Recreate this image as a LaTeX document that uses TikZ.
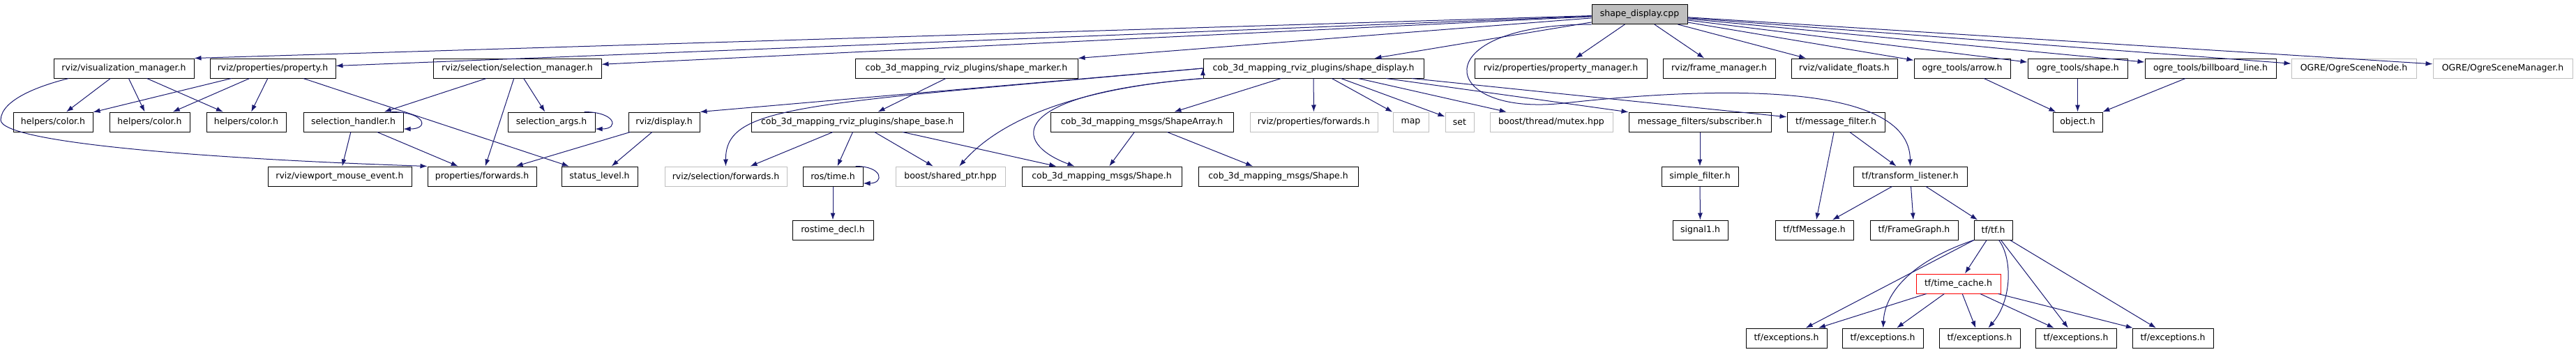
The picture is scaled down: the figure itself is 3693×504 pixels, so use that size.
\documentclass[tikz,border=0pt]{standalone}
\usepackage{fontspec}
\setmainfont{DejaVu Sans}
\usetikzlibrary{arrows.meta}
\definecolor{edgeblue}{HTML}{191970}
\definecolor{ghostgray}{HTML}{BFBFBF}

\begin{document}
\begin{tikzpicture}[x=1pt,y=-1pt,
	    IncBlock/.style= {
	        draw, line width=1pt,
	        minimum height=28pt, inner sep=0pt,
	        font=\fontsize{12.5}{14}\selectfont},
	    IncGhost/.style= {IncBlock, draw=ghostgray},
	    IncEdge/.style= {edgeblue, line width=1pt, -{Latex[length=10pt,width=7pt]}}]

		\useasboundingbox (0,0) rectangle (3693,504);

		% Blocks
		\node [IncBlock,fill=ghostgray,minimum width=137pt] (cpp) at (2350.5,20.5) {shape\_display.cpp};

		\node [IncBlock,minimum width=201pt] (vis) at (177.5,98) {rviz/visualization\_manager.h};
		\node [IncBlock,minimum width=180pt] (prop) at (391,98) {rviz/properties/property.h};
		\node [IncBlock,minimum width=241pt] (selmgr) at (741.5,98) {rviz/selection/selection\_manager.h};
		\node [IncBlock,minimum width=319pt] (marker) at (1385.5,98) {cob\_3d\_mapping\_rviz\_plugins/shape\_marker.h};
		\node [IncBlock,minimum width=316pt] (disph) at (1883,98) {cob\_3d\_mapping\_rviz\_plugins/shape\_display.h};
		\node [IncBlock,minimum width=247pt] (propmgr) at (2237.5,98) {rviz/properties/property\_manager.h};
		\node [IncBlock,minimum width=161pt] (framemgr) at (2464.5,98) {rviz/frame\_manager.h};
		\node [IncBlock,minimum width=152pt] (validate) at (2644,98) {rviz/validate\_floats.h};
		\node [IncBlock,minimum width=138pt] (oarrow) at (2813,98) {ogre\_tools/arrow.h};
		\node [IncBlock,minimum width=143pt] (oshape) at (2978.5,98) {ogre\_tools/shape.h};
		\node [IncBlock,minimum width=188pt] (billboard) at (3169,98) {ogre\_tools/billboard\_line.h};
		\node [IncGhost,minimum width=179pt] (scenenode) at (3374.5,98) {OGRE/OgreSceneNode.h};
		\node [IncGhost,minimum width=200pt] (scenemgr) at (3588,98) {OGRE/OgreSceneManager.h};

		\node [IncBlock,minimum width=114pt] (colorA) at (76,175) {helpers/color.h};
		\node [IncBlock,minimum width=115pt] (colorB) at (214.5,175) {helpers/color.h};
		\node [IncBlock,minimum width=114pt] (colorC) at (353,175) {helpers/color.h};
		\node [IncBlock,minimum width=143pt] (selhandler) at (506.5,175) {selection\_handler.h};
		\node [IncBlock,minimum width=125pt] (selargs) at (790.5,175) {selection\_args.h};
		\node [IncBlock,minimum width=102pt] (display) at (952,175) {rviz/display.h};
		\node [IncBlock,minimum width=304pt] (base) at (1229,175) {cob\_3d\_mapping\_rviz\_plugins/shape\_base.h};
		\node [IncBlock,minimum width=262pt] (shapearray) at (1637,175) {cob\_3d\_mapping\_msgs/ShapeArray.h};
		\node [IncGhost,minimum width=183pt] (propfwd) at (1883.5,175) {rviz/properties/forwards.h};
		\node [IncGhost,minimum width=51pt] (mapinc) at (2022.5,175) {map};
		\node [IncGhost,minimum width=41pt] (setinc) at (2092.5,175) {set};
		\node [IncGhost,minimum width=176pt] (mutex) at (2224,175) {boost/thread/mutex.hpp};
		\node [IncBlock,minimum width=204pt] (subscriber) at (2437,175) {message\_filters/subscriber.h};
		\node [IncBlock,minimum width=140pt] (msgfilter) at (2632,175) {tf/message\_filter.h};
		\node [IncBlock,minimum width=71pt] (object) at (2978.5,175) {object.h};

		\node [IncBlock,minimum width=206pt] (viewport) at (487,253) {rviz/viewport\_mouse\_event.h};
		\node [IncBlock,minimum width=156pt] (fwd) at (691,253) {properties/forwards.h};
		\node [IncBlock,minimum width=109pt] (status) at (859.5,253) {status\_level.h};
		\node [IncGhost,minimum width=175pt] (selfwd) at (1040.5,253) {rviz/selection/forwards.h};
		\node [IncBlock,minimum width=86pt] (rostime) at (1194,253) {ros/time.h};
		\node [IncGhost,minimum width=157pt] (sharedptr) at (1362.5,253) {boost/shared\_ptr.hpp};
		\node [IncBlock,minimum width=229pt] (shapeA) at (1579.5,253) {cob\_3d\_mapping\_msgs/Shape.h};
		\node [IncBlock,minimum width=229pt] (shapeB) at (1832.5,253) {cob\_3d\_mapping\_msgs/Shape.h};
		\node [IncBlock,minimum width=110pt] (simple) at (2437,253) {simple\_filter.h};
		\node [IncBlock,minimum width=163pt] (tlistener) at (2738.5,253) {tf/transform\_listener.h};

		\node [IncBlock,minimum width=116pt] (rostimedecl) at (1194,330) {rostime\_decl.h};
		\node [IncBlock,minimum width=79pt] (signal) at (2437.5,330) {signal1.h};
		\node [IncBlock,minimum width=112pt] (tfmsg) at (2601,330) {tf/tfMessage.h};
		\node [IncBlock,minimum width=126pt] (framegraph) at (2744,330) {tf/FrameGraph.h};
		\node [IncBlock,minimum width=55pt] (tfh) at (2857.5,330) {tf/tf.h};

		\node [IncBlock,draw=red,minimum width=121pt] (timecache) at (2807.5,407) {tf/time\_cache.h};

		\node [IncBlock,minimum width=116pt] (excA) at (2561,485) {tf/exceptions.h};
		\node [IncBlock,minimum width=116pt] (excB) at (2699,485) {tf/exceptions.h};
		\node [IncBlock,minimum width=116pt] (excC) at (2838,485) {tf/exceptions.h};
		\node [IncBlock,minimum width=116pt] (excD) at (2976,485) {tf/exceptions.h};
		\node [IncBlock,minimum width=116pt] (excE) at (3115,485) {tf/exceptions.h};

		% Arrows
		\draw[IncEdge]
		    (cpp) edge (vis.north east)
		    (cpp) edge (prop)
		    (cpp) edge (selmgr)
		    (cpp) edge (marker.north east)
		    (cpp) edge (disph)
		    (cpp) edge (propmgr)
		    (cpp) edge (framemgr)
		    (cpp) edge (validate)
		    (cpp) edge (oarrow)
		    (cpp) edge (oshape)
		    (cpp) edge (billboard)
		    (cpp) edge (scenenode)
		    (cpp) edge (scenemgr)
		    (vis) edge (colorA)
		    (vis) edge (colorB)
		    (vis) edge (colorC)
		    (prop) edge (colorA)
		    (prop) edge (colorB)
		    (prop) edge (colorC)
		    (prop) edge (status)
		    (selmgr) edge (selhandler)
		    (selmgr) edge (fwd)
		    (selmgr) edge (selargs)
		    (selhandler) edge (viewport)
		    (selhandler) edge (fwd)
		    (display) edge (fwd)
		    (display) edge (status)
		    (marker) edge (base)
		    (disph.west) edge (display.north east)
		    (disph) edge (shapearray)
		    (disph) edge (propfwd)
		    (disph) edge (mapinc)
		    (disph) edge (setinc)
		    (disph) edge (mutex)
		    (disph) edge (subscriber)
		    (disph) edge (msgfilter)
		    (base) edge (selfwd)
		    (base) edge (rostime)
		    (base) edge (sharedptr)
		    (base) edge (shapeA)
		    (rostime) edge (rostimedecl)
		    (shapearray) edge (shapeA)
		    (shapearray) edge (shapeB)
		    (subscriber) edge (simple)
		    (simple) edge (signal)
		    (msgfilter) edge (tfmsg)
		    (msgfilter) edge (tlistener)
		    (tlistener) edge (tfmsg)
		    (tlistener) edge (framegraph)
		    (tlistener) edge (tfh)
		    (tfh) edge (timecache)
		    (tfh) edge (excA)
		    (tfh) edge (excD)
		    (tfh) edge (excE)
		    (timecache) edge (excA)
		    (timecache) edge (excB)
		    (timecache) edge (excC)
		    (timecache) edge (excD)
		    (timecache) edge (excE)
		    (oarrow) edge (object)
		    (oshape) edge (object)
		    (billboard) edge (object) ;

		% Curved arrows
		\coordinate (viaTL) at (2242,148);
		\coordinate (viaVF) at (1,172);
		\draw[IncEdge] (cpp.south west) .. controls (2040,35) and (2060,168) .. (viaTL)
		    .. controls (2450,125) and (2738,115) .. (tlistener);
		\draw[IncEdge] ([xshift=22pt]vis.south west) .. controls (60,122) and (2,142) .. (viaVF)
		    .. controls (1,205) and (300,228) .. (fwd.north west);
		\draw[IncEdge] (disph.west) .. controls (1150,150) and (1040,150) .. (selfwd);
		\draw[IncEdge] (disph.south west) .. controls (1560,125) and (1440,165) .. (sharedptr);
		\draw[IncEdge] (disph.south west) .. controls (1440,135) and (1450,205) .. (shapeA);
		\draw[IncEdge] (tfh.south west) .. controls (2740,375) and (2702,420) .. (excB);
		\draw[IncEdge] ([xshift=8pt]tfh.south) .. controls (2885,370) and (2885,430) .. (excC);

		% Self loops
		\draw[IncEdge] ([xshift=-17pt]selhandler.north east) .. controls +(48,0) and +(38,0) .. ([yshift=-10pt]selhandler.east);
		\draw[IncEdge] ([xshift=-16pt]selargs.north east) .. controls +(45,0) and +(35,0) .. ([yshift=-10pt]selargs.east);
		\draw[IncEdge] ([xshift=-11pt]rostime.north east) .. controls +(40,0) and +(30,0) .. ([yshift=-10pt]rostime.east);

	\end{tikzpicture}
\end{document}
